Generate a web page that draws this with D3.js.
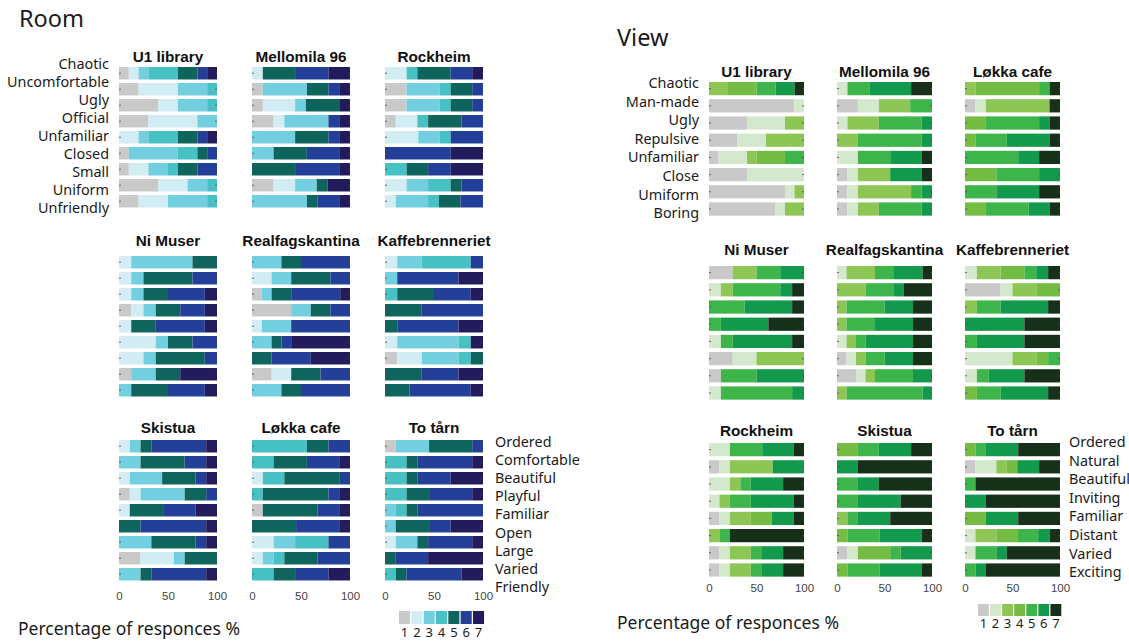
<!DOCTYPE html>
<html>
<head>
<meta charset="utf-8">
<script src="https://cdn.jsdelivr.net/npm/d3@7"></script>
<style>
  html, body { margin: 0; padding: 0; background: #fff; }
  svg { display: block; }
</style>
</head>
<body>
<svg id="chart" width="1129" height="641"></svg>
<script>
// ---- Response scale ------------------------------------------------------
const scaleKeys = [1, 2, 3, 4, 5, 6, 7];

// ---- Room ratings ---------------------------------------------------------
const roomVenues = ["U1 library", "Mellomila 96", "Rockheim",
                    "Ni Muser", "Realfagskantina", "Kaffebrenneriet",
                    "Skistua", "Løkka cafe", "To tårn"];
const roomLeftTerms = ["Chaotic", "Uncomfortable", "Ugly", "Official", "Unfamiliar",
                       "Closed", "Small", "Uniform", "Unfriendly"];
const roomRightTerms = ["Ordered", "Comfortable", "Beautiful", "Playful", "Familiar",
                        "Open", "Large", "Varied", "Friendly"];

// each row: share (%) of answers 1..7
const roomU1Library = [
  [10, 10, 10, 30, 20, 10, 10], [20, 40, 30, 10, 0, 0, 0], [40, 20, 30, 10, 0, 0, 0],
  [30, 50, 20, 0, 0, 0, 0], [0, 20, 10, 30, 20, 10, 10], [10, 0, 50, 20, 10, 10, 0],
  [10, 20, 20, 10, 20, 20, 0], [40, 30, 20, 10, 0, 0, 0], [20, 30, 40, 10, 0, 0, 0]];
const roomMellomila = [
  [0, 11, 0, 0, 33, 34, 22], [11, 0, 45, 0, 22, 11, 11], [11, 33, 11, 0, 34, 0, 11],
  [22, 11, 45, 0, 0, 11, 11], [0, 0, 44, 0, 34, 11, 11], [0, 0, 22, 0, 34, 33, 11],
  [0, 0, 0, 0, 44, 45, 11], [22, 22, 22, 0, 11, 0, 23], [0, 0, 56, 0, 11, 22, 11]];
const roomRockheim = [
  [0, 22, 0, 11, 34, 22, 11], [22, 0, 34, 11, 22, 11, 0], [22, 0, 34, 11, 22, 11, 0],
  [11, 22, 0, 11, 34, 22, 0], [0, 34, 22, 11, 0, 33, 0], [0, 0, 0, 0, 0, 67, 33],
  [0, 0, 0, 22, 22, 23, 33], [0, 22, 22, 23, 11, 22, 0], [0, 11, 33, 11, 22, 23, 0]];
const roomNiMuser = [
  [0, 12.5, 62.5, 0, 25, 0, 0], [0, 12.5, 12.5, 0, 50, 25, 0], [0, 12.5, 12.5, 0, 25, 37.5, 12.5],
  [12.5, 12.5, 12.5, 0, 25, 25, 12.5], [0, 12.5, 0, 0, 25, 50, 12.5], [0, 37.5, 12.5, 0, 25, 25, 0],
  [0, 25, 12.5, 0, 50, 12.5, 0], [12.5, 0, 25, 0, 25, 0, 37.5], [0, 0, 12.5, 0, 37.5, 37.5, 12.5]];
const roomRealfag = [
  [0, 0, 30, 0, 20, 50, 0], [0, 20, 20, 0, 40, 20, 0], [10, 0, 10, 0, 20, 50, 10],
  [40, 0, 20, 0, 20, 20, 0], [0, 10, 30, 0, 0, 60, 0], [0, 0, 20, 0, 10, 10, 60],
  [0, 0, 0, 0, 20, 40, 40], [20, 20, 0, 0, 30, 30, 0], [0, 0, 30, 0, 20, 50, 0]];
const roomKaffe = [
  [0, 12.5, 25, 50, 0, 12.5, 0], [0, 0, 12.5, 0, 0, 62.5, 25], [0, 0, 0, 12.5, 37.5, 37.5, 12.5],
  [0, 0, 0, 0, 37.5, 62.5, 0], [0, 0, 0, 0, 12.5, 62.5, 25], [0, 12.5, 62.5, 12.5, 0, 0, 12.5],
  [12.5, 25, 37.5, 12.5, 12.5, 0, 0], [0, 0, 0, 0, 37.5, 37.5, 25], [0, 0, 0, 0, 25, 62.5, 12.5]];
const roomSkistua = [
  [0, 11, 11, 0, 11, 56, 11], [0, 0, 22, 0, 45, 22, 11], [0, 11, 33, 0, 34, 11, 11],
  [11, 11, 45, 0, 22, 11, 0], [0, 11, 0, 0, 34, 33, 22], [0, 0, 0, 0, 22, 67, 11],
  [0, 0, 33, 0, 45, 11, 11], [22, 34, 11, 0, 33, 0, 0], [0, 0, 22, 0, 11, 56, 11]];
const roomLokka = [
  [0, 0, 0, 56, 22, 22, 0], [0, 0, 0, 22, 34, 33, 11], [0, 11, 0, 22, 56, 11, 0],
  [0, 0, 0, 11, 67, 11, 11], [11, 0, 0, 0, 56, 22, 11], [0, 0, 0, 0, 45, 44, 11],
  [0, 22, 22, 34, 0, 22, 0], [0, 11, 11, 11, 34, 33, 0], [0, 0, 0, 22, 22, 34, 22]];
const roomToTarn = [
  [11, 0, 34, 0, 44, 11, 0], [0, 0, 0, 22, 11, 56, 11], [0, 0, 0, 22, 11, 34, 33],
  [0, 0, 0, 22, 23, 44, 11], [0, 0, 11, 11, 11, 67, 0], [0, 0, 11, 0, 34, 22, 33],
  [0, 11, 22, 0, 11, 45, 11], [0, 0, 0, 0, 11, 33, 56], [0, 0, 0, 11, 11, 56, 22]];

// ---- View ratings ---------------------------------------------------------
const viewVenues = ["U1 library", "Mellomila 96", "Løkka cafe",
                    "Ni Muser", "Realfagskantina", "Kaffebrenneriet",
                    "Rockheim", "Skistua", "To tårn"];
const viewLeftTerms = ["Chaotic", "Man-made", "Ugly", "Repulsive", "Unfamiliar",
                       "Close", "Umiform", "Boring"];
const viewRightTerms = ["Ordered", "Natural", "Beautiful", "Inviting", "Familiar",
                        "Distant", "Varied", "Exciting"];

const viewU1Library = [
  [0, 0, 20, 30, 20, 20, 10], [90, 10, 0, 0, 0, 0, 0], [40, 40, 20, 0, 0, 0, 0],
  [30, 30, 40, 0, 0, 0, 0], [10, 30, 10, 30, 20, 0, 0], [40, 60, 0, 0, 0, 0, 0],
  [80, 10, 10, 0, 0, 0, 0], [70, 10, 20, 0, 0, 0, 0]];
const viewMellomila = [
  [0, 11, 0, 0, 23, 44, 22], [22, 22, 33, 0, 23, 0, 0], [0, 11, 33, 0, 45, 11, 0],
  [0, 0, 22, 0, 67, 11, 0], [0, 22, 0, 0, 34, 33, 11], [11, 11, 34, 0, 0, 33, 11],
  [11, 11, 56, 0, 11, 11, 0], [11, 11, 22, 0, 45, 11, 0]];
const viewLokka = [
  [0, 0, 11, 67, 11, 0, 11], [11, 11, 67, 0, 0, 0, 11], [0, 0, 0, 22, 56, 11, 11],
  [0, 0, 0, 11, 33, 45, 11], [0, 0, 0, 0, 56, 22, 22], [0, 0, 0, 33, 45, 22, 0],
  [0, 0, 0, 0, 33, 45, 22], [0, 0, 0, 22, 45, 22, 11]];
const viewNiMuser = [
  [25, 0, 25, 0, 25, 25, 0], [0, 12.5, 12.5, 0, 50, 12.5, 12.5], [0, 0, 0, 0, 37.5, 50, 12.5],
  [0, 0, 0, 0, 12.5, 50, 37.5], [0, 12.5, 0, 0, 12.5, 62.5, 12.5], [25, 25, 50, 0, 0, 0, 0],
  [12.5, 0, 0, 0, 37.5, 50, 0], [0, 12.5, 0, 0, 75, 12.5, 0]];
const viewRealfag = [
  [0, 10, 30, 0, 20, 30, 10], [0, 0, 30, 0, 30, 10, 30], [0, 0, 10, 0, 40, 30, 20],
  [0, 0, 10, 0, 30, 40, 20], [0, 10, 10, 0, 10, 50, 20], [10, 10, 10, 0, 20, 30, 20],
  [20, 10, 10, 0, 40, 20, 0], [0, 0, 10, 0, 80, 10, 0]];
const viewKaffe = [
  [0, 12.5, 25, 25, 12.5, 12.5, 12.5], [37.5, 12.5, 25, 25, 0, 0, 0], [0, 0, 12.5, 0, 25, 50, 12.5],
  [0, 0, 0, 0, 0, 62.5, 37.5], [0, 0, 0, 0, 12.5, 50, 37.5], [0, 50, 25, 12.5, 12.5, 0, 0],
  [0, 12.5, 0, 0, 12.5, 37.5, 37.5], [0, 0, 0, 12.5, 25, 50, 12.5]];
const viewRockheim = [
  [0, 22, 0, 0, 34, 33, 11], [11, 11, 45, 0, 0, 33, 0], [0, 22, 11, 0, 11, 34, 22],
  [0, 11, 11, 0, 22, 45, 11], [11, 11, 22, 22, 0, 23, 11], [0, 0, 11, 0, 11, 0, 78],
  [11, 11, 22, 0, 11, 23, 22], [11, 11, 22, 0, 11, 23, 22]];
const viewSkistua = [
  [0, 0, 0, 22, 22, 34, 22], [0, 0, 0, 0, 0, 22, 78], [0, 0, 0, 0, 22, 22, 56],
  [0, 0, 0, 0, 22, 45, 33], [0, 0, 11, 0, 11, 34, 44], [0, 0, 0, 11, 34, 44, 11],
  [11, 11, 0, 34, 11, 33, 0], [0, 0, 0, 11, 34, 44, 11]];
const viewToTarn = [
  [0, 0, 0, 11, 11, 34, 44], [11, 22, 11, 11, 0, 23, 22], [0, 0, 0, 0, 11, 0, 89],
  [0, 0, 0, 0, 0, 22, 78], [0, 0, 0, 22, 0, 34, 44], [0, 11, 22, 22, 22, 12, 11],
  [0, 11, 0, 0, 22, 11, 56], [0, 0, 0, 0, 11, 11, 78]];

const roomValues = [roomU1Library, roomMellomila, roomRockheim, roomNiMuser, roomRealfag,
                    roomKaffe, roomSkistua, roomLokka, roomToTarn];
const viewValues = [viewU1Library, viewMellomila, viewLokka, viewNiMuser, viewRealfag,
                    viewKaffe, viewRockheim, viewSkistua, viewToTarn];

const tickValues = [0, 50, 100];
const footerText = "Percentage of responces %";

// ---- Colours --------------------------------------------------------------
const roomColors = ["#c9c9c9", "#d2ecf3", "#72cfe0", "#47c1c3", "#10645e", "#233f97", "#221b5c"];
const viewColors = ["#c9c9c9", "#d3e8cc", "#8dc654", "#74bc43", "#3eb54a", "#13994b", "#16301a"];

// ---- Layout ---------------------------------------------------------------
const roomLayout = {
  heading: "Room", headX: 19, headY: 27,
  colX: [119, 252, 385], barW: 98,
  rowTop: [67, 256, 440], step: 16, barFrac: 0.78,
  titleY: [62, 246, 433],
  left: { x: 109, y0: 64, dy: 18 },
  right: { x: 495, y0: 442, dy: 18.1 },
  axisY: 600,
  legend: { x: 399, y: 611, w: 12.15, h: 13, labelY: 637 },
  footX: 18, footY: 635
};
const viewLayout = {
  heading: "View", headX: 617, headY: 46,
  colX: [709, 837, 965], barW: 95,
  rowTop: [82, 266, 443], step: 17.2, barFrac: 0.77,
  titleY: [77, 255, 436],
  left: { x: 699, y0: 83, dy: 18.6 },
  right: { x: 1069, y0: 442, dy: 18.6 },
  axisY: 592,
  legend: { x: 978, y: 604, w: 11.9, h: 12, labelY: 628 },
  footX: 617, footY: 629
};

const svg = d3.select("#chart");
const labelFont = "'Noto Sans', 'Open Sans', sans-serif";
const titleFont = "'Liberation Sans', Arial, sans-serif";

function drawPanel(L, venues, values, leftTerms, rightTerms, colors) {
  const g = svg.append("g");
  const color = d3.scaleOrdinal().domain(scaleKeys).range(colors);
  const nRows = leftTerms.length;

  g.append("text")
    .attr("x", L.headX).attr("y", L.headY)
    .attr("font-family", labelFont).attr("font-size", 23.5)
    .attr("fill", "#1a1a1a")
    .text(L.heading);

  const stack = d3.stack()
    .keys(scaleKeys.map((k, i) => i))
    .offset(d3.stackOffsetExpand);

  venues.forEach((venue, vi) => {
    const col = vi % 3, row = Math.floor(vi / 3);
    const x0 = L.colX[col];
    const top = L.rowTop[row];
    const pad = 1 - L.barFrac;

    const x = d3.scaleLinear().domain([0, 1]).range([x0, x0 + L.barW]);
    const y = d3.scaleBand()
      .domain(d3.range(nRows))
      .range([top - L.step * pad / 2, top - L.step * pad / 2 + nRows * L.step])
      .paddingInner(pad).paddingOuter(pad / 2);

    const rows = values[vi].map((r, i) => Object.assign({ row: i }, r));
    const series = stack(rows);

    const cell = g.append("g");
    cell.selectAll("g.series")
      .data(series)
      .join("g")
      .attr("class", "series")
      .attr("fill", d => color(scaleKeys[d.key]))
      .selectAll("rect")
      .data(d => d)
      .join("rect")
      .attr("x", d => x(d[0]))
      .attr("y", d => y(d.data.row))
      .attr("width", d => Math.max(0, x(d[1]) - x(d[0])))
      .attr("height", y.bandwidth());

    // inward tick marks on both bar ends
    const leftAxis = cell.append("g")
      .attr("transform", `translate(${x0},0)`)
      .call(d3.axisLeft(y).tickSize(-2).tickFormat(""));
    const rightAxis = cell.append("g")
      .attr("transform", `translate(${x0 + L.barW},0)`)
      .call(d3.axisRight(y).tickSize(-2).tickFormat(""));
    [leftAxis, rightAxis].forEach(a => {
      a.select(".domain").remove();
      a.selectAll("line").attr("stroke", "#444").attr("stroke-width", 0.8);
    });

    // venue title
    cell.append("text")
      .attr("x", x0 + L.barW / 2).attr("y", L.titleY[row])
      .attr("text-anchor", "middle")
      .attr("font-family", titleFont).attr("font-weight", "bold")
      .attr("font-size", 15.3).attr("fill", "#111")
      .text(venue);

    // percentage axis under the bottom row
    if (row === 2) {
      const xAxis = d3.scaleLinear().domain([0, 100]).range([x0, x0 + L.barW]);
      const ax = cell.append("g")
        .attr("transform", `translate(0,${L.axisY - 8})`)
        .call(d3.axisBottom(xAxis).tickValues(tickValues).tickSize(0).tickPadding(0));
      ax.select(".domain").remove();
      ax.selectAll("text")
        .attr("font-family", titleFont).attr("font-size", 11.5).attr("fill", "#444");
    }
  });

  // negative-pole terms on the left of the first block
  g.append("g").selectAll("text")
    .data(leftTerms)
    .join("text")
    .attr("x", L.left.x)
    .attr("y", (d, i) => L.left.y0 + i * L.left.dy)
    .attr("dy", "0.35em")
    .attr("text-anchor", "end")
    .attr("font-family", labelFont).attr("font-size", 14.4).attr("fill", "#1a1a1a")
    .text(d => d);

  // positive-pole terms on the right of the last block
  g.append("g").selectAll("text")
    .data(rightTerms)
    .join("text")
    .attr("x", L.right.x)
    .attr("y", (d, i) => L.right.y0 + i * L.right.dy)
    .attr("dy", "0.35em")
    .attr("font-family", labelFont).attr("font-size", 14.4).attr("fill", "#1a1a1a")
    .text(d => d);

  // colour key
  const lg = L.legend;
  const lx = d3.scaleBand().domain(scaleKeys).range([lg.x, lg.x + lg.w * 7]).paddingInner(0.1);
  const key = g.append("g");
  key.selectAll("rect")
    .data(scaleKeys)
    .join("rect")
    .attr("x", d => lx(d)).attr("y", lg.y)
    .attr("width", lx.bandwidth()).attr("height", lg.h)
    .attr("fill", d => color(d));
  key.selectAll("text")
    .data(scaleKeys)
    .join("text")
    .attr("x", d => lx(d) + lx.bandwidth() / 2).attr("y", lg.labelY)
    .attr("text-anchor", "middle")
    .attr("font-family", labelFont).attr("font-size", 13).attr("fill", "#1a1a1a")
    .text(d => d);

  g.append("text")
    .attr("x", L.footX).attr("y", L.footY)
    .attr("font-family", labelFont).attr("font-size", 17.5).attr("fill", "#1a1a1a")
    .text(footerText);
}

drawPanel(roomLayout, roomVenues, roomValues, roomLeftTerms, roomRightTerms, roomColors);
drawPanel(viewLayout, viewVenues, viewValues, viewLeftTerms, viewRightTerms, viewColors);
</script>
</body>
</html>
